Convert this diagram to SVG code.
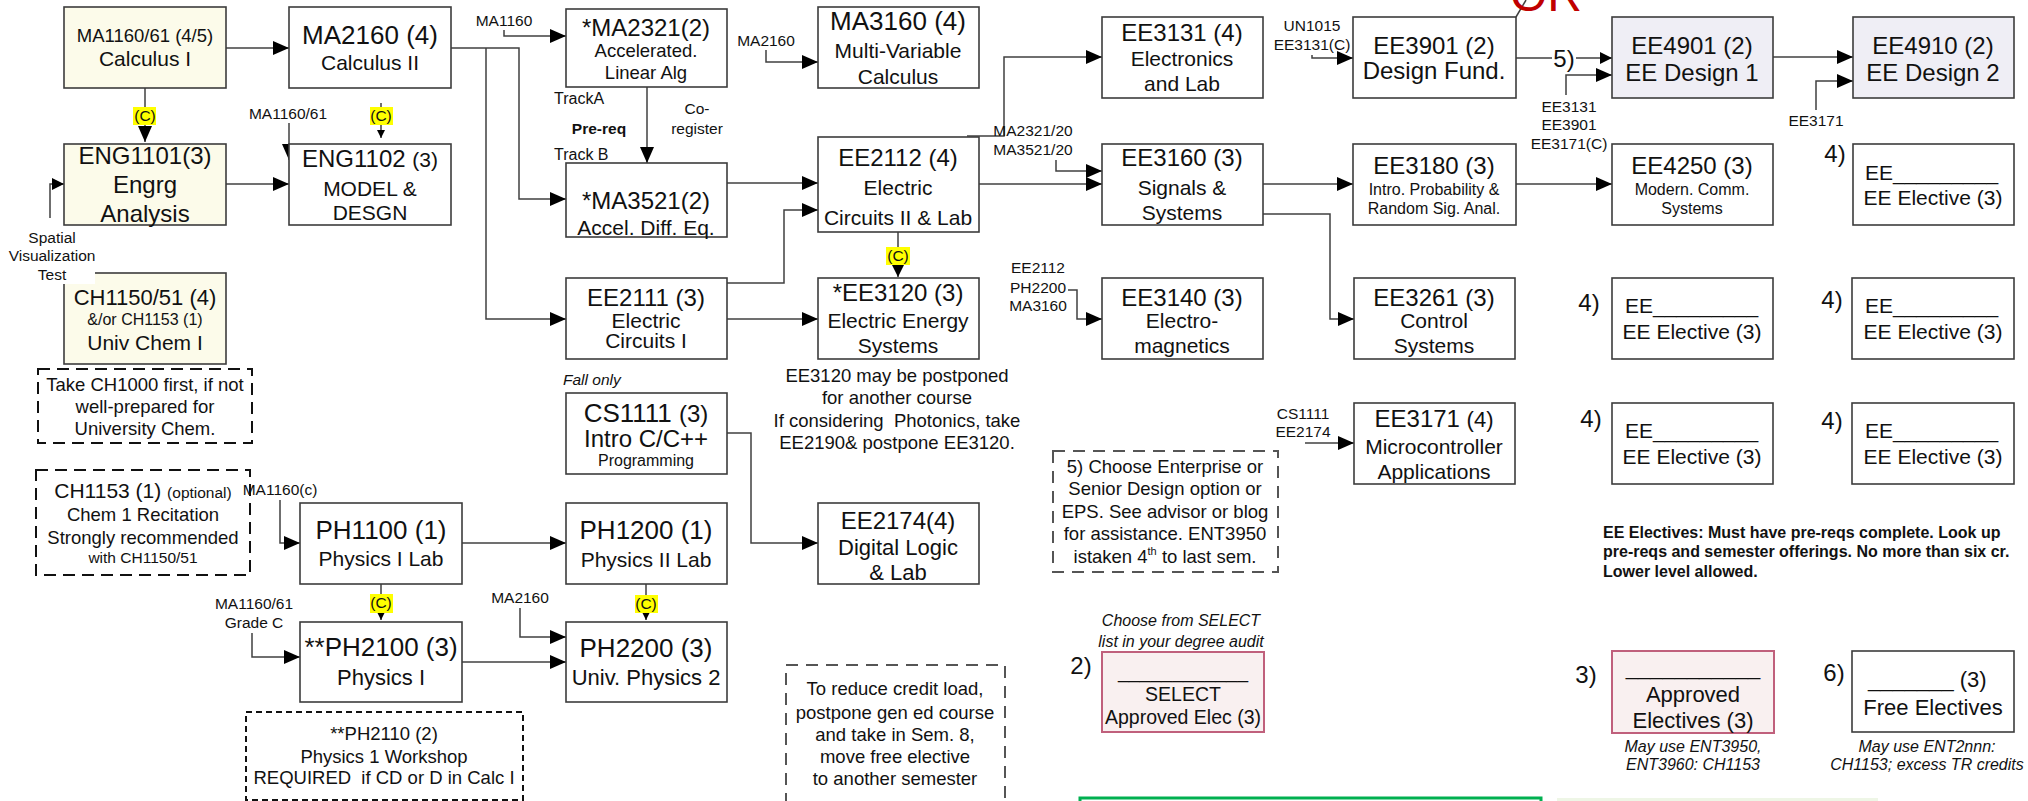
<svg xmlns="http://www.w3.org/2000/svg" width="2028" height="801" viewBox="0 0 2028 801">
<style>
text{font-family:"Liberation Sans",Arial,sans-serif;fill:#111}
.m{text-anchor:middle}
.box{fill:#fff;stroke:#3c3c3c;stroke-width:1.6}
.cream{fill:#fcfbea}
.lav{fill:#efeef5}
.pink{fill:#f9f0f0;stroke:#c0607c;stroke-width:2}
.dash{fill:none;stroke:#111;stroke-width:2;stroke-dasharray:12 7}
.dashg{fill:none;stroke:#555;stroke-width:2;stroke-dasharray:12 8}
.dot{fill:none;stroke:#111;stroke-width:2;stroke-dasharray:6 4}
.con{fill:none;stroke:#404040;stroke-width:1.5}
.hl{fill:#ffff00}
.f15{font-size:15.5px}
.f16{font-size:16px}
.f18{font-size:18.5px}
.f19{font-size:19.5px}
.f21{font-size:21px}
.f22{font-size:22px}
.f24{font-size:24px}
.f26{font-size:26px}
.it{font-style:italic}
.b{font-weight:bold}
</style>
<defs>
<marker id="ah" markerUnits="userSpaceOnUse" markerWidth="16" markerHeight="14" viewBox="0 0 16 14" refX="16" refY="7" orient="auto"><path d="M0,0 L16,7 L0,14 z" fill="#000"/></marker>
<marker id="am" markerUnits="userSpaceOnUse" markerWidth="12" markerHeight="12" viewBox="0 0 12 12" refX="12" refY="6" orient="auto"><path d="M0,0 L12,6 L0,12 z" fill="#000"/></marker>
<marker id="as" markerUnits="userSpaceOnUse" markerWidth="8" markerHeight="8" viewBox="0 0 8 8" refX="8" refY="4" orient="auto"><path d="M0,0 L8,4 L0,8 z" fill="#000"/></marker>
</defs>

<g id="connectors">
<path class="con" d="M226,48 H289" marker-end="url(#ah)"/>
<path class="con" d="M145,88 V142" marker-end="url(#ah)"/>
<path class="con" d="M451,48 H519 V199 H566" marker-end="url(#ah)"/>
<path class="con" d="M486,48 V319 H566" marker-end="url(#ah)"/>
<path class="con" d="M504,30 V36 H566" marker-end="url(#ah)"/>
<path class="con" d="M289,123 V160" marker-end="url(#ah)"/>
<path class="con" d="M381,103 V138" marker-end="url(#as)"/>
<path class="con" d="M226,184 H289" marker-end="url(#ah)"/>
<path class="con" d="M50,218 V184 H64" marker-end="url(#am)"/>
<path class="con" d="M647,87 V163" marker-end="url(#ah)"/>
<path class="con" d="M766,50 V62 H818" marker-end="url(#ah)"/>
<path class="con" d="M727,183 H818" marker-end="url(#ah)"/>
<path class="con" d="M727,283 H784 V210 H818" marker-end="url(#ah)"/>
<path class="con" d="M727,319 H818" marker-end="url(#ah)"/>
<path class="con" d="M898,232 V277" marker-end="url(#am)"/>
<path class="con" d="M967,136 H1004 V57 H1102" marker-end="url(#ah)"/>
<path class="con" d="M979,184 H1102" marker-end="url(#ah)"/>
<path class="con" d="M1056,160 V171 H1102" marker-end="url(#ah)"/>
<path class="con" d="M1312,55 V58 H1353" marker-end="url(#ah)"/>
<path class="con" d="M1516,58 H1552"/>
<path class="con" d="M1576,58 H1612" marker-end="url(#am)"/>
<path class="con" d="M1566,95 V75 H1612" marker-end="url(#ah)"/>
<path class="con" d="M1773,57 H1853" marker-end="url(#ah)"/>
<path class="con" d="M1816,110 V81 H1853" marker-end="url(#ah)"/>
<path class="con" d="M1263,184 H1353" marker-end="url(#ah)"/>
<path class="con" d="M1516,184 H1612" marker-end="url(#ah)"/>
<path class="con" d="M1263,214 H1330 V319 H1354" marker-end="url(#ah)"/>
<path class="con" d="M1068,290 H1077 V319 H1102" marker-end="url(#ah)"/>
<path class="con" d="M727,433 H751 V543 H818" marker-end="url(#ah)"/>
<path class="con" d="M1305,443 H1354" marker-end="url(#ah)"/>
<path class="con" d="M280,500 V543 H300" marker-end="url(#ah)"/>
<path class="con" d="M462,543 H566" marker-end="url(#ah)"/>
<path class="con" d="M381,584 V620" marker-end="url(#as)"/>
<path class="con" d="M252,633 V657 H300" marker-end="url(#ah)"/>
<path class="con" d="M462,662 H566" marker-end="url(#ah)"/>
<path class="con" d="M520,608 V637 H566" marker-end="url(#ah)"/>
<path class="con" d="M646,584 V620" marker-end="url(#as)"/>
<path class="con" d="M1516,17 L1526,0"/>
</g>

<g id="coreq-labels">
<rect class="hl" x="133" y="107" width="23" height="18"/><text class="m f15" x="145" y="121">(C)</text>
<rect class="hl" x="370" y="107" width="23" height="18"/><text class="m f15" x="381" y="121">(C)</text>
<rect class="hl" x="886" y="247" width="24" height="18"/><text class="m f15" x="898" y="261">(C)</text>
<rect class="hl" x="370" y="594" width="23" height="19"/><text class="m f15" x="381" y="608">(C)</text>
<rect class="hl" x="635" y="595" width="23" height="18"/><text class="m f15" x="646" y="609">(C)</text>
</g>

<g id="labels">
<text class="m f15" x="504" y="25.5">MA1160</text>
<text class="m f15" x="288" y="118.5">MA1160/61</text>
<text class="m f15" x="766" y="45.5">MA2160</text>
<text class="f16" x="554" y="103.5">TrackA</text>
<text class="m f15 b" x="599" y="133.5">Pre-req</text>
<text class="m f15" x="697" y="113.5">Co-</text>
<text class="m f15" x="697" y="133.5">register</text>
<text class="f16" x="554" y="159.5">Track B</text>
<text class="m f15" x="1033" y="135.5">MA2321/20</text>
<text class="m f15" x="1033" y="154.5">MA3521/20</text>
<text class="m f15" x="1312" y="30.5">UN1015</text>
<text class="m f15" x="1312" y="49.5">EE3131(C)</text>
<text class="m f24" x="1564" y="66.5">5)</text>
<text class="m f15" x="1569" y="111.5">EE3131</text>
<text class="m f15" x="1569" y="129.5">EE3901</text>
<text class="m f15" x="1569" y="148.5">EE3171(C)</text>
<text class="m f15" x="1816" y="125.5">EE3171</text>
<text class="m f15" x="1038" y="272.5">EE2112</text>
<text class="m f15" x="1038" y="292.5">PH2200</text>
<text class="m f15" x="1038" y="310.5">MA3160</text>
<text class="m f15" x="1303" y="418.5">CS1111</text>
<text class="m f15" x="1303" y="436.5">EE2174</text>
<text class="m f15" x="280" y="494.5">MA1160(c)</text>
<text class="m f15" x="254" y="608.5">MA1160/61</text>
<text class="m f15" x="254" y="627.5">Grade C</text>
<text class="m f15" x="520" y="602.5">MA2160</text>
<text class="f15 it" x="563" y="384.5">Fall only</text>
<text x="1510" y="11" style="font-size:48px;fill:#c00000">OR</text>
</g>

<g id="calc1"><rect class="box cream" x="64" y="7" width="162" height="81"/>
<text class="m f18" x="145" y="41.5">MA1160/61 (4/5)</text><text class="m f21" x="145" y="65.5">Calculus I</text></g>
<g id="ma2160"><rect class="box" x="289" y="7" width="162" height="81"/>
<text class="m f26" x="370" y="44">MA2160 (4)</text><text class="m f21" x="370" y="70">Calculus II</text></g>
<g id="eng1101"><rect class="box cream" x="64" y="144" width="162" height="81"/>
<text class="m f24" x="145" y="163.5">ENG1101(3)</text><text class="m f24" x="145" y="192.5">Engrg</text><text class="m f24" x="145" y="221.5">Analysis</text></g>
<g id="eng1102"><rect class="box" x="289" y="144" width="162" height="81"/>
<text class="m f24" x="370" y="167">ENG1102 <tspan class="f21">(3)</tspan></text><text class="m f21" x="370" y="195.5">MODEL &amp;</text><text class="m f21" x="370" y="219.5">DESGN</text></g>
<g id="ch1150"><rect class="box cream" x="64" y="273" width="162" height="91"/>
<text class="m f22" x="145" y="305">CH1150/51 (4)</text><text class="m f16" x="145" y="324.5">&amp;/or CH1153 (1)</text><text class="m f21" x="145" y="349.5">Univ Chem I</text></g>
<g id="spatial"><rect x="30" y="262" width="65" height="22" fill="#fff"/>
<text class="m f15" x="52" y="242.5">Spatial</text><text class="m f15" x="52" y="260.5">Visualization</text><text class="m f15" x="52" y="279.5">Test</text></g>
<g id="ch1000-note"><rect class="dash" x="38" y="369" width="214" height="74"/>
<text class="m f18" x="145" y="390.5">Take CH1000 first, if not</text><text class="m f18" x="145" y="412.5">well-prepared for</text><text class="m f18" x="145" y="434.5">University Chem.</text></g>
<g id="ch1153-note"><rect class="dash" x="36" y="470" width="214" height="105"/>
<text class="m f21" x="143" y="498">CH1153 (1) <tspan class="f15">(optional)</tspan></text><text class="m f18" x="143" y="520.5">Chem 1 Recitation</text><text class="m f18" x="143" y="543.5">Strongly recommended</text><text class="m f15" x="143" y="562.5">with CH1150/51</text></g>
<g id="ph1100"><rect class="box" x="300" y="503" width="162" height="81"/>
<text class="m f26" x="381" y="539">PH1100 (1)</text><text class="m f21" x="381" y="565.5">Physics I Lab</text></g>
<g id="ph2100"><rect class="box" x="300" y="622" width="162" height="80"/>
<text class="m f26" x="381" y="656">**PH2100 (3)</text><text class="m f22" x="381" y="685">Physics I</text></g>
<g id="ph2110-note"><rect class="dot" x="246" y="712" width="277" height="88"/>
<text class="m f18" x="384" y="739.5">**PH2110 (2)</text><text class="m f18" x="384" y="762.5">Physics 1 Workshop</text><text class="m f18" x="384" y="783.5" xml:space="preserve">REQUIRED  if CD or D in Calc I</text></g>
<g id="ma2321"><rect class="box" x="566" y="9" width="161" height="78"/>
<text class="m f24" x="646" y="35.5">*MA2321(2)</text><text class="m f18" x="646" y="57">Accelerated.</text><text class="m f18" x="646" y="79">Linear Alg</text></g>
<g id="ma3521"><rect class="box" x="566" y="163" width="161" height="74"/>
<text class="m f24" x="646" y="208.5">*MA3521(2)</text><text class="m f21" x="646" y="234.5">Accel. Diff. Eq.</text></g>
<g id="ma3160"><rect class="box" x="818" y="7" width="161" height="81"/>
<text class="m f26" x="898" y="30">MA3160 (4)</text><text class="m f21" x="898" y="57.5">Multi-Variable</text><text class="m f21" x="898" y="83.5">Calculus</text></g>
<g id="ee2112"><rect class="box" x="818" y="137" width="161" height="95"/>
<text class="m f24" x="898" y="165.5">EE2112 (4)</text><text class="m f21" x="898" y="194.5">Electric</text><text class="m f21" x="898" y="224.5">Circuits II &amp; Lab</text></g>
<g id="ee2111"><rect class="box" x="566" y="278" width="161" height="81"/>
<text class="m f24" x="646" y="305.5">EE2111 (3)</text><text class="m f21" x="646" y="327.5">Electric</text><text class="m f21" x="646" y="347.5">Circuits I</text></g>
<g id="ee3120"><rect class="box" x="818" y="278" width="161" height="81"/>
<text class="m f24" x="898" y="300.5">*EE3120 (3)</text><text class="m f21" x="898" y="327.5">Electric Energy</text><text class="m f21" x="898" y="352.5">Systems</text></g>
<g id="ee3120-note">
<text class="m f18" x="897" y="381.5">EE3120 may be postponed</text><text class="m f18" x="897" y="403.5">for another course</text><text class="m f18" x="897" y="426.5" xml:space="preserve">If considering  Photonics, take</text><text class="m f18" x="897" y="448.5">EE2190&amp; postpone EE3120.</text></g>
<g id="cs1111"><rect class="box" x="566" y="393" width="161" height="81"/>
<text class="m f26" x="646" y="422">CS1111 <tspan class="f24">(3)</tspan></text><text class="m f24" x="646" y="446.5">Intro C/C++</text><text class="m f16" x="646" y="465.5">Programming</text></g>
<g id="ph1200"><rect class="box" x="566" y="503" width="161" height="81"/>
<text class="m f26" x="646" y="539">PH1200 (1)</text><text class="m f21" x="646" y="566.5">Physics II Lab</text></g>
<g id="ph2200"><rect class="box" x="566" y="622" width="161" height="80"/>
<text class="m f26" x="646" y="657">PH2200 (3)</text><text class="m f22" x="646" y="685">Univ. Physics 2</text></g>
<g id="ee2174"><rect class="box" x="818" y="503" width="161" height="81"/>
<text class="m f24" x="898" y="528.5">EE2174(4)</text><text class="m f22" x="898" y="555">Digital Logic</text><text class="m f22" x="898" y="580">&amp; Lab</text></g>
<g id="reduce-note"><path class="dashg" d="M786,805 V665 H1005 V805"/>
<text class="m f18" x="895" y="694.5">To reduce credit load,</text><text class="m f18" x="895" y="718.5">postpone gen ed course</text><text class="m f18" x="895" y="740.5">and take in Sem. 8,</text><text class="m f18" x="895" y="762.5">move free elective</text><text class="m f18" x="895" y="784.5">to another semester</text></g>
<g id="ee3131"><rect class="box" x="1102" y="17" width="161" height="81"/>
<text class="m f24" x="1182" y="40.5">EE3131 (4)</text><text class="m f21" x="1182" y="65.5">Electronics</text><text class="m f21" x="1182" y="90.5">and Lab</text></g>
<g id="ee3901"><rect class="box" x="1353" y="17" width="163" height="81"/>
<text class="m f24" x="1434" y="53.5">EE3901 (2)</text><text class="m f24" x="1434" y="78.5">Design Fund.</text></g>
<g id="ee4901"><rect class="box lav" x="1612" y="17" width="161" height="81"/>
<text class="m f24" x="1692" y="53.5">EE4901 (2)</text><text class="m f24" x="1692" y="80.5">EE Design 1</text></g>
<g id="ee4910"><rect class="box lav" x="1853" y="17" width="161" height="81"/>
<text class="m f24" x="1933" y="53.5">EE4910 (2)</text><text class="m f24" x="1933" y="80.5">EE Design 2</text></g>
<g id="ee3160"><rect class="box" x="1102" y="144" width="161" height="81"/>
<text class="m f24" x="1182" y="165.5">EE3160 (3)</text><text class="m f21" x="1182" y="194.5">Signals &amp;</text><text class="m f21" x="1182" y="219.5">Systems</text></g>
<g id="ee3180"><rect class="box" x="1353" y="144" width="163" height="81"/>
<text class="m f24" x="1434" y="173.5">EE3180 (3)</text><text class="m f16" x="1434" y="194.5">Intro. Probability &amp;</text><text class="m f16" x="1434" y="213.5">Random Sig. Anal.</text></g>
<g id="ee4250"><rect class="box" x="1612" y="144" width="161" height="81"/>
<text class="m f24" x="1692" y="173.5">EE4250 (3)</text><text class="m f16" x="1692" y="194.5">Modern. Comm.</text><text class="m f16" x="1692" y="213.5">Systems</text></g>
<g id="elective1"><text class="m f24" x="1835" y="161.5">4)</text><rect class="box" x="1853" y="144" width="161" height="81"/>
<text class="f21" x="1865" y="180">EE_________</text><text class="m f21" x="1933" y="204.5">EE Elective (3)</text></g>
<g id="ee3140"><rect class="box" x="1102" y="278" width="161" height="81"/>
<text class="m f24" x="1182" y="305.5">EE3140 (3)</text><text class="m f21" x="1182" y="327.5">Electro-</text><text class="m f21" x="1182" y="352.5">magnetics</text></g>
<g id="ee3261"><rect class="box" x="1354" y="278" width="161" height="81"/>
<text class="m f24" x="1434" y="305.5">EE3261 (3)</text><text class="m f21" x="1434" y="327.5">Control</text><text class="m f21" x="1434" y="352.5">Systems</text></g>
<g id="elective2"><text class="m f24" x="1589" y="310.5">4)</text><rect class="box" x="1612" y="278" width="161" height="81"/>
<text class="f21" x="1625" y="313">EE_________</text><text class="m f21" x="1692" y="338.5">EE Elective (3)</text></g>
<g id="elective3"><text class="m f24" x="1832" y="307.5">4)</text><rect class="box" x="1852" y="278" width="162" height="81"/>
<text class="f21" x="1865" y="313">EE_________</text><text class="m f21" x="1933" y="338.5">EE Elective (3)</text></g>
<g id="ee3171"><rect class="box" x="1354" y="403" width="161" height="81"/>
<text class="m f24" x="1434" y="426.5">EE3171 <tspan class="f22">(4)</tspan></text><text class="m f21" x="1434" y="453.5">Microcontroller</text><text class="m f21" x="1434" y="478.5">Applications</text></g>
<g id="elective4"><text class="m f24" x="1591" y="426.5">4)</text><rect class="box" x="1612" y="403" width="161" height="81"/>
<text class="f21" x="1625" y="438">EE_________</text><text class="m f21" x="1692" y="463.5">EE Elective (3)</text></g>
<g id="elective5"><text class="m f24" x="1832" y="428.5">4)</text><rect class="box" x="1852" y="403" width="162" height="81"/>
<text class="f21" x="1865" y="438">EE_________</text><text class="m f21" x="1933" y="463.5">EE Elective (3)</text></g>
<g id="choose-note"><rect class="dashg" x="1053" y="451" width="225" height="121"/>
<text class="m f18" x="1165" y="472.5">5) Choose Enterprise or</text><text class="m f18" x="1165" y="494.5">Senior Design option or</text><text class="m f18" x="1165" y="517.5">EPS. See advisor or blog</text><text class="m f18" x="1165" y="539.5">for assistance. ENT3950</text><text class="m f18" x="1165" y="562.5">istaken 4<tspan font-size="11" dy="-8">th</tspan><tspan dy="8"> to last sem.</tspan></text></g>
<g id="ee-electives-note">
<text class="f16 b" x="1603" y="538">EE Electives: Must have pre-reqs complete. Look up</text>
<text class="f16 b" x="1603" y="557">pre-reqs and semester offerings. No more than six cr.</text>
<text class="f16 b" x="1603" y="577">Lower level allowed.</text></g>
<g id="select"><text class="m f16 it" x="1181" y="625.5">Choose from SELECT</text><text class="m f16 it" x="1181" y="646.5">list in your degree audit</text>
<text class="m f24" x="1081" y="673.5">2)</text><rect class="pink" x="1102" y="652" width="162" height="80"/>
<text class="m f19" x="1183" y="678">____________</text><text class="m f19" x="1183" y="701">SELECT</text><text class="m f19" x="1183" y="724">Approved Elec (3)</text></g>
<g id="approved"><text class="m f24" x="1586" y="682.5">3)</text><rect class="pink" x="1612" y="651" width="162" height="82"/>
<text class="m f22" x="1693" y="675">___________</text><text class="m f22" x="1693" y="701.5">Approved</text><text class="m f22" x="1693" y="727.5">Electives (3)</text>
<text class="m f16 it" x="1693" y="751.5">May use ENT3950,</text><text class="m f16 it" x="1693" y="769.5">ENT3960: CH1153</text></g>
<g id="free"><text class="m f24" x="1834" y="680.5">6)</text><rect class="box" x="1852" y="651" width="162" height="81"/>
<text class="f22" x="1868" y="687">_______ (3)</text><text class="m f22" x="1933" y="714.5">Free Electives</text>
<text class="m f16 it" x="1927" y="751.5">May use ENT2nnn:</text><text class="m f16 it" x="1927" y="769.5">CH1153; excess TR credits</text></g>
<g id="bottom-boxes"><rect x="1080" y="798" width="461" height="10" fill="none" stroke="#00b050" stroke-width="3"/>
<rect x="1557" y="798" width="321" height="10" fill="#eef6e6"/></g>
</svg>
